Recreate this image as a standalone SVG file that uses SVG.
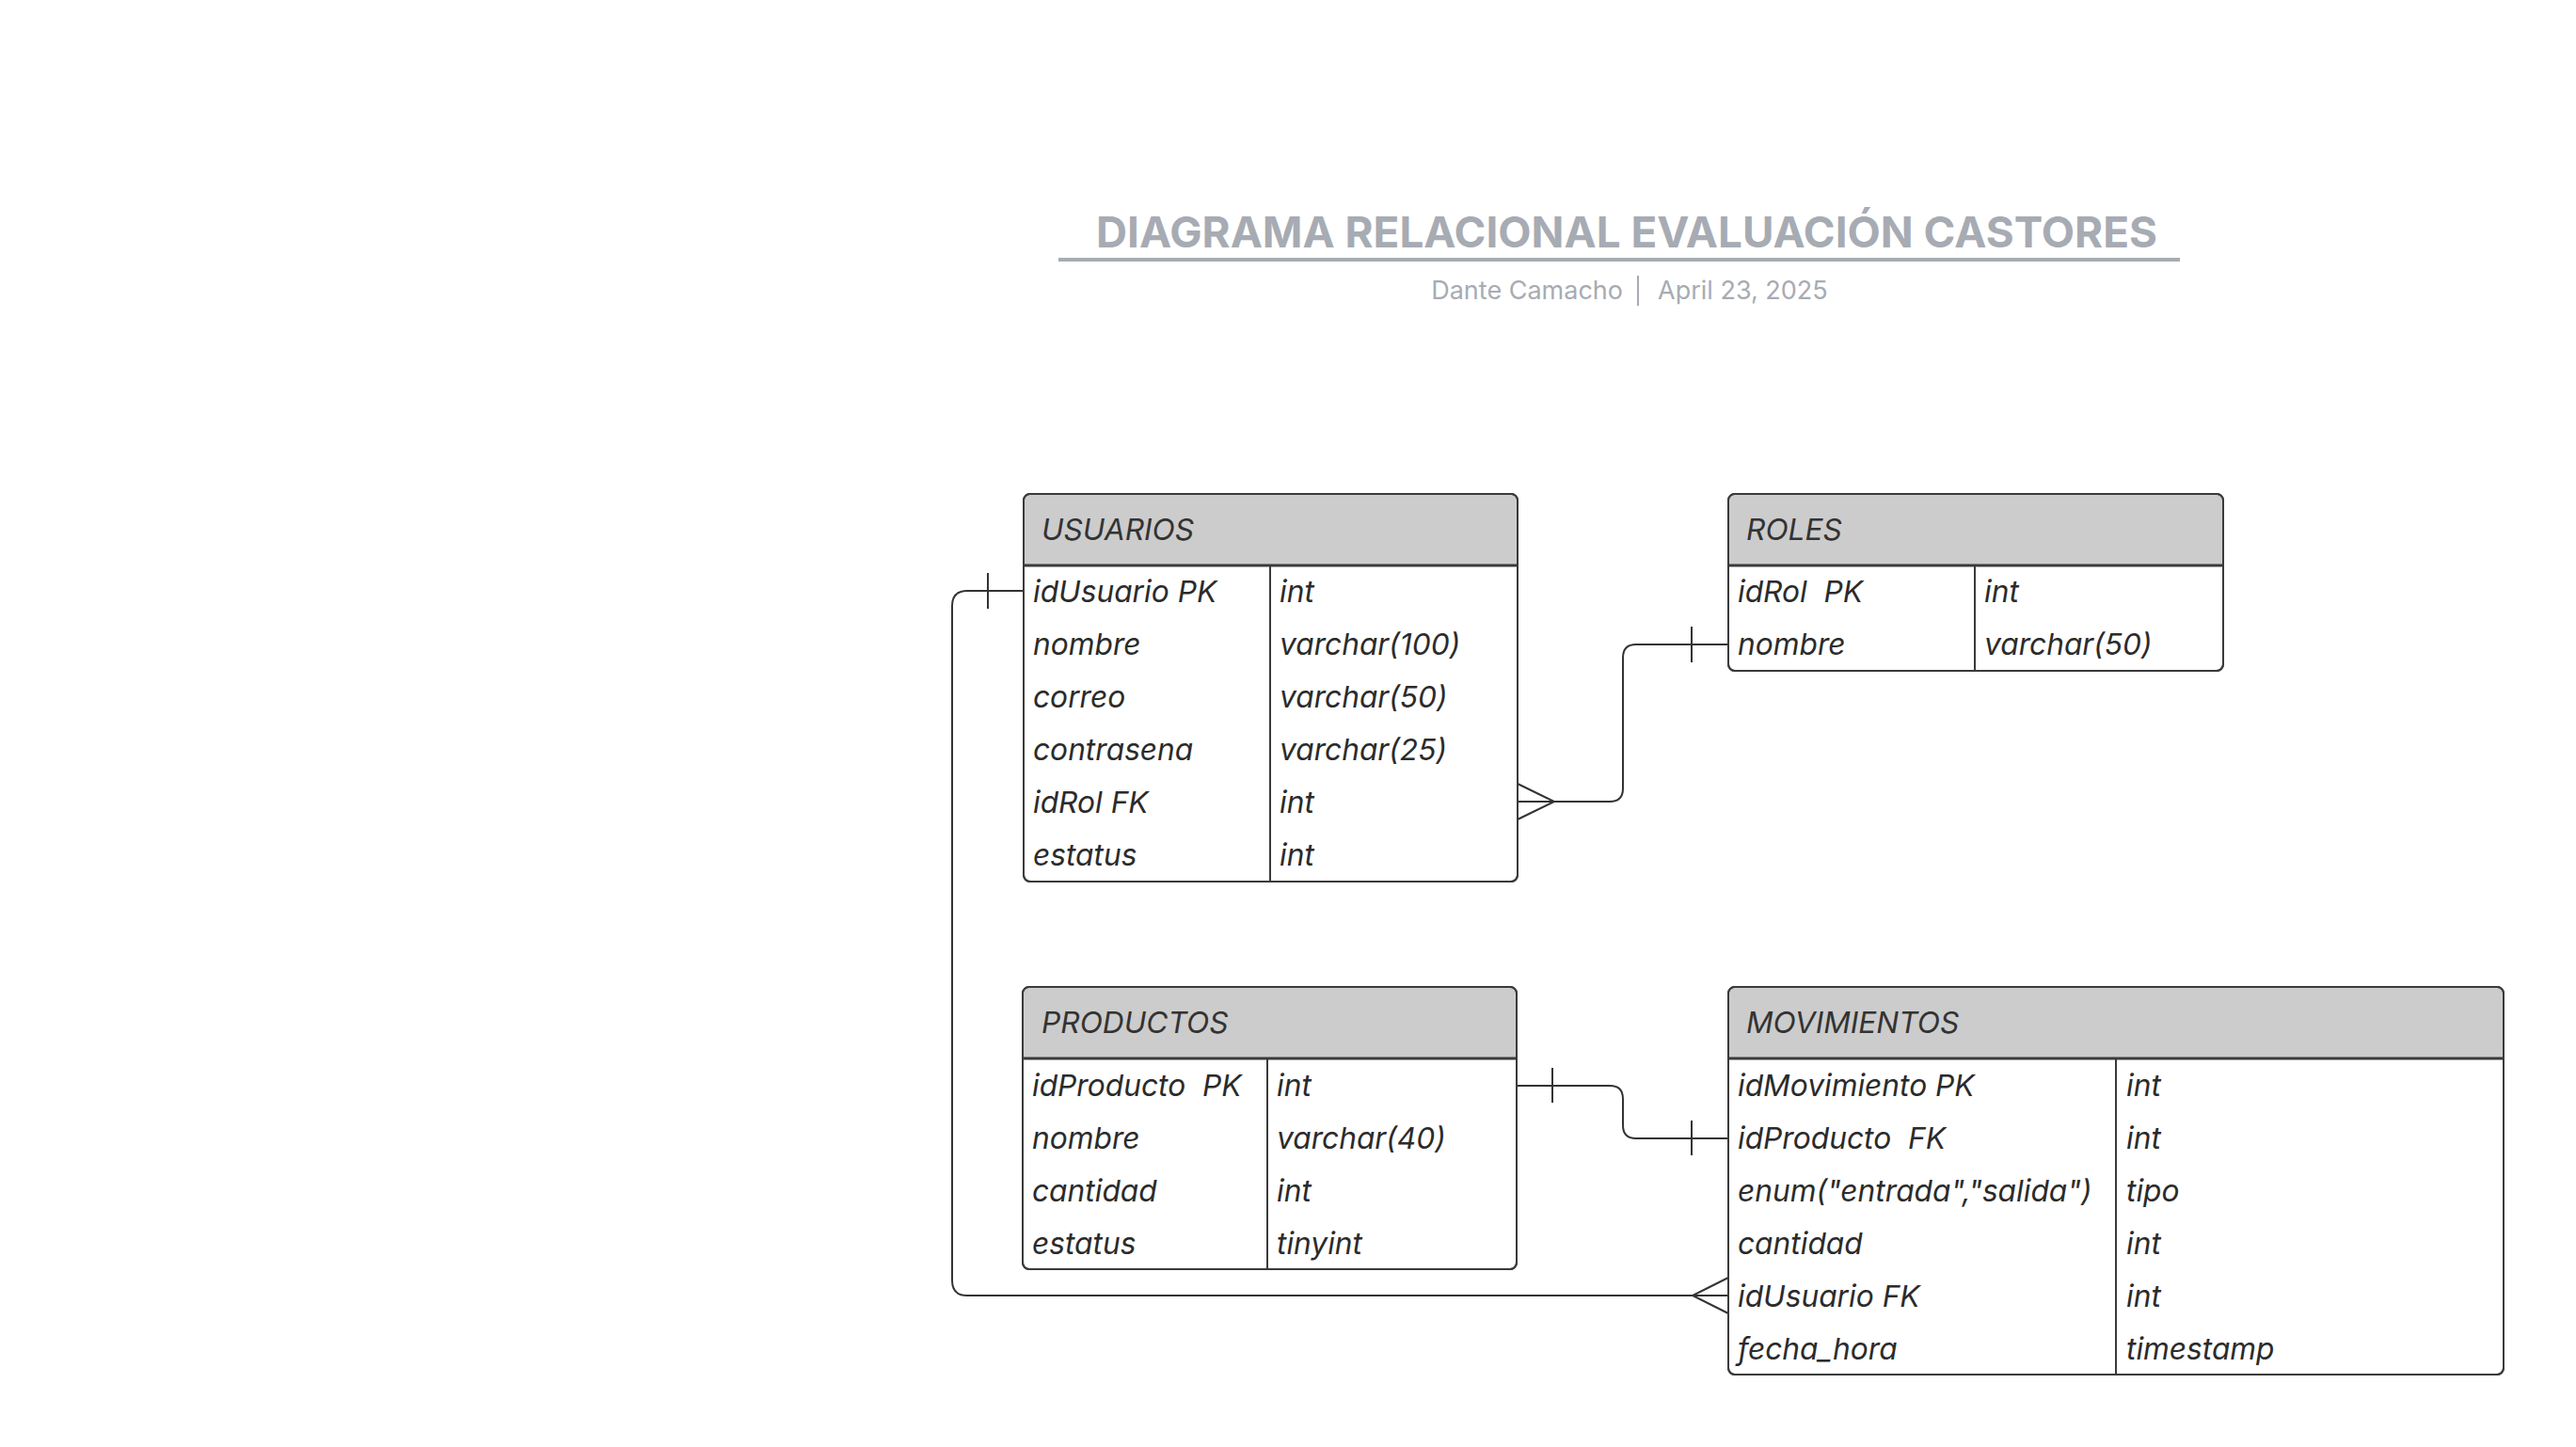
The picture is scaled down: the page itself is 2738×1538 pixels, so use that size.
<svg xmlns="http://www.w3.org/2000/svg" width="2738" height="1538" viewBox="0 0 2738 1538">
<style>
  .bg { fill: #ffffff; }
  .title { font-family: Inter, "Liberation Sans", sans-serif; font-weight: 700; font-size: 45.8px; fill: #a7abb3; }
  .sub { font-family: Inter, "Liberation Sans", sans-serif; font-weight: 400; font-size: 27px; fill: #a7abb3; }
  .box { fill: #ffffff; stroke: #3a3a3a; stroke-width: 2; }
  .head { fill: #cccccc; }
  .sep { stroke: #3a3a3a; stroke-width: 3; }
  .div { stroke: #3a3a3a; stroke-width: 2; }
  .ht { font-family: Inter, "Liberation Sans", sans-serif; font-style: italic; font-size: 31.7px; fill: #333333; white-space: pre; }
  .t { font-family: Inter, "Liberation Sans", sans-serif; font-style: italic; font-size: 31.7px; fill: #2b2b2b; white-space: pre; }
  .conn { fill: none; stroke: #333333; stroke-width: 2; }
</style>
<rect class="bg" x="0" y="0" width="2738" height="1538"/>

<g id="title">
  <text class="title" x="1729" y="263" text-anchor="middle">DIAGRAMA RELACIONAL EVALUACIÓN CASTORES</text>
  <line x1="1125" y1="276" x2="2317" y2="276" stroke="#a7abb3" stroke-width="4"/>
  <text class="sub" x="1725" y="318" text-anchor="end">Dante Camacho</text>
  <line x1="1741" y1="293" x2="1741" y2="325" stroke="#a7abb3" stroke-width="2"/>
  <text class="sub" x="1762" y="318">April 23, 2025</text>
</g>

<g id="connectors">
  <!-- USUARIOS.idUsuario -> MOVIMIENTOS.idUsuario -->
  <path class="conn" d="M1088 628 H1028 Q1012 628 1012 644 V1361 Q1012 1377 1028 1377 H1837"/>
  <line class="conn" x1="1050" y1="609" x2="1050" y2="647"/>
  <path class="conn" d="M1837 1358 L1799 1377 L1837 1396"/>
  <!-- USUARIOS.idRol -> ROLES -->
  <path class="conn" d="M1613 852 H1711 Q1725 852 1725 838 V699 Q1725 685 1739 685 H1837"/>
  <path class="conn" d="M1613 833 L1652 852 L1613 871"/>
  <line class="conn" x1="1798" y1="666" x2="1798" y2="704"/>
  <!-- PRODUCTOS.idProducto -> MOVIMIENTOS.idProducto -->
  <path class="conn" d="M1612 1154 H1711 Q1725 1154 1725 1168 V1196 Q1725 1210 1739 1210 H1837"/>
  <line class="conn" x1="1650" y1="1135" x2="1650" y2="1172"/>
  <line class="conn" x1="1798" y1="1191" x2="1798" y2="1228"/>
</g>

<g id="usuarios">
  <rect class="box" x="1088" y="525" width="525" height="412" rx="7"/>
  <path class="head" d="M1089 601 V533 Q1089 526 1096 526 H1605 Q1612 526 1612 533 V601 Z"/>
  <rect x="1088" y="525" width="525" height="412" rx="7" fill="none" stroke="#3a3a3a" stroke-width="2"/>
  <line class="sep" x1="1088" y1="601" x2="1613" y2="601"/>
  <line class="div" x1="1350" y1="601" x2="1350" y2="937"/>
  <text class="ht" x="1107" y="574">USUARIOS</text>
  <text class="t" x="1098" y="640">idUsuario PK</text><text class="t" x="1360" y="640">int</text>
  <text class="t" x="1098" y="696">nombre</text><text class="t" x="1360" y="696">varchar(100)</text>
  <text class="t" x="1098" y="752">correo</text><text class="t" x="1360" y="752">varchar(50)</text>
  <text class="t" x="1098" y="808">contrasena</text><text class="t" x="1360" y="808">varchar(25)</text>
  <text class="t" x="1098" y="864">idRol FK</text><text class="t" x="1360" y="864">int</text>
  <text class="t" x="1098" y="920">estatus</text><text class="t" x="1360" y="920">int</text>
</g>

<g id="roles">
  <rect class="box" x="1837" y="525" width="526" height="188" rx="7"/>
  <path class="head" d="M1838 601 V533 Q1838 526 1845 526 H2355 Q2362 526 2362 533 V601 Z"/>
  <rect x="1837" y="525" width="526" height="188" rx="7" fill="none" stroke="#3a3a3a" stroke-width="2"/>
  <line class="sep" x1="1837" y1="601" x2="2363" y2="601"/>
  <line class="div" x1="2099" y1="601" x2="2099" y2="713"/>
  <text class="ht" x="1856" y="574">ROLES</text>
  <text class="t" x="1847" y="640" xml:space="preserve">idRol  PK</text><text class="t" x="2109" y="640">int</text>
  <text class="t" x="1847" y="696">nombre</text><text class="t" x="2109" y="696">varchar(50)</text>
</g>

<g id="productos">
  <rect class="box" x="1087" y="1049" width="525" height="300" rx="7"/>
  <path class="head" d="M1088 1125 V1057 Q1088 1050 1095 1050 H1604 Q1611 1050 1611 1057 V1125 Z"/>
  <rect x="1087" y="1049" width="525" height="300" rx="7" fill="none" stroke="#3a3a3a" stroke-width="2"/>
  <line class="sep" x1="1087" y1="1125" x2="1612" y2="1125"/>
  <line class="div" x1="1347" y1="1125" x2="1347" y2="1349"/>
  <text class="ht" x="1107" y="1098">PRODUCTOS</text>
  <text class="t" x="1097" y="1165" xml:space="preserve">idProducto  PK</text><text class="t" x="1357" y="1165">int</text>
  <text class="t" x="1097" y="1221">nombre</text><text class="t" x="1357" y="1221">varchar(40)</text>
  <text class="t" x="1097" y="1277">cantidad</text><text class="t" x="1357" y="1277">int</text>
  <text class="t" x="1097" y="1333">estatus</text><text class="t" x="1357" y="1333">tinyint</text>
</g>

<g id="movimientos">
  <rect class="box" x="1837" y="1049" width="824" height="412" rx="7"/>
  <path class="head" d="M1838 1125 V1057 Q1838 1050 1845 1050 H2653 Q2660 1050 2660 1057 V1125 Z"/>
  <rect x="1837" y="1049" width="824" height="412" rx="7" fill="none" stroke="#3a3a3a" stroke-width="2"/>
  <line class="sep" x1="1837" y1="1125" x2="2661" y2="1125"/>
  <line class="div" x1="2249" y1="1125" x2="2249" y2="1461"/>
  <text class="ht" x="1856" y="1098">MOVIMIENTOS</text>
  <text class="t" x="1847" y="1165">idMovimiento PK</text><text class="t" x="2260" y="1165">int</text>
  <text class="t" x="1847" y="1221" xml:space="preserve">idProducto  FK</text><text class="t" x="2260" y="1221">int</text>
  <text class="t" x="1847" y="1277">enum("entrada","salida")</text><text class="t" x="2260" y="1277">tipo</text>
  <text class="t" x="1847" y="1333">cantidad</text><text class="t" x="2260" y="1333">int</text>
  <text class="t" x="1847" y="1389">idUsuario FK</text><text class="t" x="2260" y="1389">int</text>
  <text class="t" x="1847" y="1445">fecha_hora</text><text class="t" x="2260" y="1445">timestamp</text>
</g>
</svg>
